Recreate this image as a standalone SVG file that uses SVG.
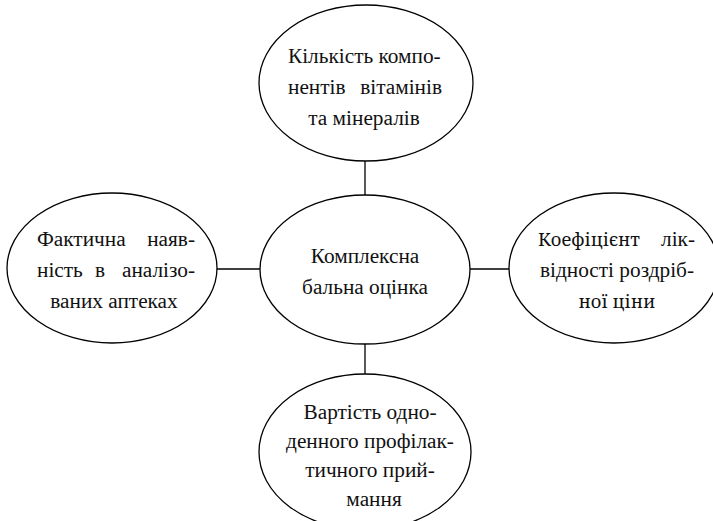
<svg xmlns="http://www.w3.org/2000/svg" width="713" height="521" viewBox="0 0 713 521">
<style>
.n{fill:#fff;stroke:#000;stroke-width:1.3}
.c{stroke:#000;stroke-width:1.3;fill:none}
.s{font-family:"Liberation Serif",serif;font-size:21.3px;fill:#111}
.u{font-family:"Noto Serif",serif;font-size:18.3px;fill:#111}
</style>
<rect width="713" height="521" fill="#fff"/>
<g id="connectors">
<line class="c" x1="365" y1="161" x2="365" y2="195"/>
<line class="c" x1="365" y1="344" x2="365" y2="374"/>
<line class="c" x1="217" y1="269" x2="260" y2="269"/>
<line class="c" x1="470" y1="269" x2="509" y2="269"/>
</g>
<g id="top">
<ellipse class="n" cx="366" cy="83" rx="107" ry="78"/>
<text class="s" x="288" y="63">Кількість компо-</text>
<text class="s" x="288" y="94">нентів</text>
<text class="s" x="442" y="94" text-anchor="end">вітамінів</text>
<text class="s" x="364" y="125" text-anchor="middle">та мінералів</text>
</g>
<g id="center">
<ellipse class="n" cx="365" cy="269.5" rx="105" ry="74.5"/>
<text class="s" x="365" y="263" text-anchor="middle">Комплексна</text>
<text class="s" x="365" y="294" text-anchor="middle">бальна оцінка</text>
</g>
<g id="left">
<ellipse class="n" cx="112" cy="268" rx="105" ry="75"/>
<text class="s" x="37" y="246">Фактична</text>
<text class="s" x="195" y="246" text-anchor="end">наяв-</text>
<text class="s" x="37" y="277">ність</text>
<text class="s" x="95" y="277">в</text>
<text class="s" x="195" y="277" text-anchor="end">аналізо-</text>
<text class="s" x="114" y="308" text-anchor="middle">ваних аптеках</text>
</g>
<g id="right">
<ellipse class="n" cx="614" cy="268" rx="105" ry="75"/>
<text class="u" x="538" y="246">Коефіцієнт</text>
<text class="s" x="695" y="246" text-anchor="end">лік-</text>
<text class="s" x="617" y="277" text-anchor="middle">відності роздріб-</text>
<text class="u" x="617" y="308" text-anchor="middle">ної ціни</text>
</g>
<g id="bottom">
<ellipse class="n" cx="365" cy="452" rx="106" ry="78"/>
<text class="s" x="370" y="419" text-anchor="middle">Вартість одно-</text>
<text class="s" x="370" y="448" text-anchor="middle">денного профілак-</text>
<text class="s" x="370" y="477" text-anchor="middle">тичного прий-</text>
<text class="s" x="374" y="506" text-anchor="middle">мання</text>
</g>
</svg>
